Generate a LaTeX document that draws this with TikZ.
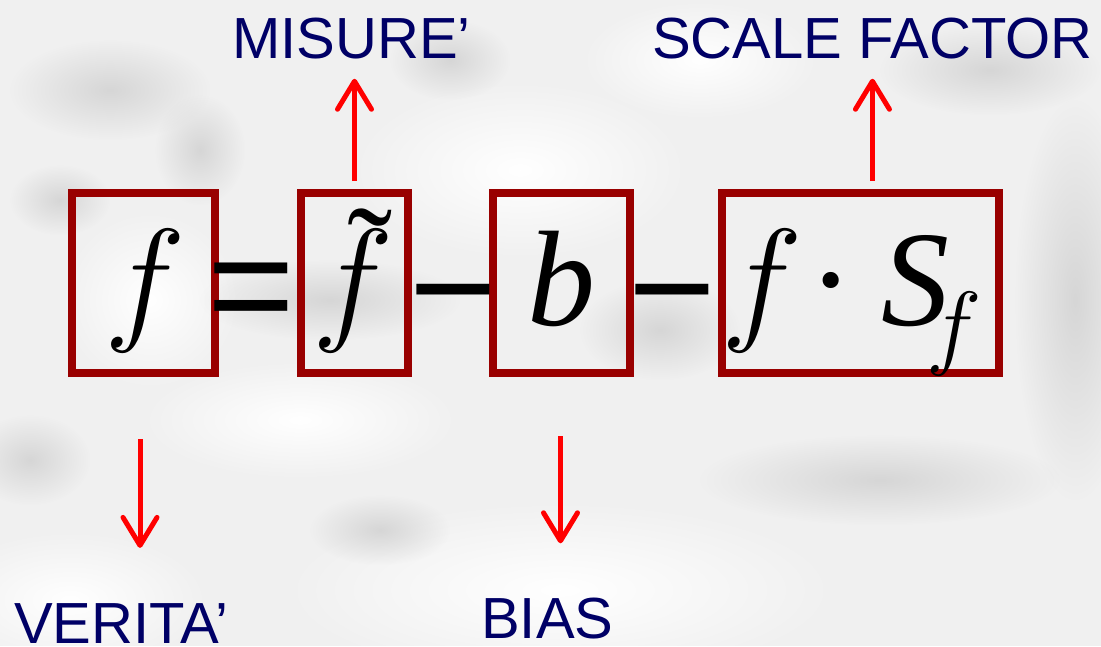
\RequirePackage{fix-cm}
\documentclass[tikz,border=0pt]{standalone}
\usepackage{fontspec}
\setmainfont{Liberation Serif}
\newfontfamily\arialf{Liberation Sans}
\usetikzlibrary{arrows.meta,fadings}
\definecolor{boxred}{RGB}{153,0,0}
\definecolor{navy}{RGB}{0,0,102}
\definecolor{arrred}{RGB}{255,0,0}
\tikzfading[name=softfade, inner color=transparent!0, outer color=transparent!100]
\begin{document}
\begin{tikzpicture}[x=1pt,y=-1pt,
  eqbox/.style={draw=boxred, line width=8pt, inner sep=0pt},
  lbl/.style={text=navy, font=\arialf\fontsize{58}{60}\selectfont, inner sep=0pt, anchor=base west},
  mathf/.style={font=\fontsize{138}{140}\selectfont, inner sep=0pt, anchor=base},
  subf/.style={font=\fontsize{94}{96}\selectfont, inner sep=0pt, anchor=base},
  opsym/.style={font=\arialf\fontsize{150}{150}\selectfont, inner sep=0pt, anchor=base},
  arr/.style={draw=arrred, line width=5pt, -{Straight Barb[length=28pt,width=34pt,round]}},
  gblob/.style={fill=black!16, path fading=softfade},
  wblob/.style={fill=white, path fading=softfade}]
\useasboundingbox (0,0) rectangle (1101,646);
% marble background
\fill[black!6] (0,0) rectangle (1101,646);
\fill[wblob] (560,590) ellipse [x radius=280, y radius=90];
\fill[wblob] (520,170) ellipse [x radius=170, y radius=90];
\fill[wblob] (70,600) ellipse [x radius=140, y radius=70];
\fill[wblob] (700,60) ellipse [x radius=120, y radius=60];
\fill[wblob] (300,420) ellipse [x radius=160, y radius=60];
\fill[wblob] (150,300) ellipse [x radius=90, y radius=90];
\fill[gblob] (110,90) ellipse [x radius=100, y radius=50];
\fill[gblob] (200,150) ellipse [x radius=45, y radius=55];
\fill[gblob] (60,200) ellipse [x radius=50, y radius=35];
\fill[gblob] (330,300) ellipse [x radius=130, y radius=40];
\fill[gblob] (450,60) ellipse [x radius=60, y radius=40];
\fill[gblob] (880,480) ellipse [x radius=180, y radius=45];
\fill[gblob] (1075,300) ellipse [x radius=60, y radius=200];
\fill[gblob] (30,460) ellipse [x radius=60, y radius=45];
\fill[gblob] (990,70) ellipse [x radius=110, y radius=45];
\fill[gblob] (660,330) ellipse [x radius=80, y radius=50];
\fill[gblob] (380,530) ellipse [x radius=70, y radius=35];
% boxes
\node[eqbox, minimum width=143pt, minimum height=180pt] (b1) at (143.5,283) {};
\node[eqbox, minimum width=107pt, minimum height=180pt] (b2) at (354.5,283) {};
\node[eqbox, minimum width=137pt, minimum height=180pt] (b3) at (561.5,283) {};
\node[eqbox, minimum width=277pt, minimum height=180pt] (b4) at (860.5,283) {};
% equation
\node[mathf] (f1) at (145,325) {$f$};
\node[mathf] (f2) at (353,325) {$f$};
\node[mathf, font=\fontsize{136}{140}\selectfont] (tl) at (370,300) {˜};
\node[mathf, font=\itshape\fontsize{136}{140}\selectfont] (bb) at (561,325) {b};
\node[mathf] (f3) at (762,325) {$f$};
\node[mathf, font=\fontsize{136}{140}\selectfont] (dt) at (831,325) {·};
\node[mathf, font=\itshape\fontsize{136}{140}\selectfont] (ss) at (915,325) {S};
\node[subf] (sf) at (954,357) {$f$};
\node[opsym] (eq) at (251,336) {=};
\node[opsym] (m1) at (453,339) {−};
\node[opsym] (m2) at (672,339) {−};
% labels
\node[lbl] (mis) at (232,58) {MISURE’};
\node[lbl] (sca) at (652,58) {SCALE FACTOR};
\node[lbl] (ver) at (14,643) {VERITA’};
\node[lbl] (bia) at (481,638) {BIAS};
% arrows
\draw[arr, shorten <=8pt, shorten >=20pt] (b2.north) -- (b2.north |- mis.south);
\draw[arr, shorten <=8pt, shorten >=20pt] (b4.north -| sca.south) -- (sca.south);
\draw[arr, shorten <=62pt, shorten >=55pt] ([xshift=-3.5pt]b1.south) -- ([xshift=-3.5pt]b1.south |- ver.north);
\draw[arr, shorten <=59pt, shorten >=54pt] ([xshift=-1pt]b3.south) -- ([xshift=-1pt]b3.south |- bia.north);
\end{tikzpicture}
\end{document}
